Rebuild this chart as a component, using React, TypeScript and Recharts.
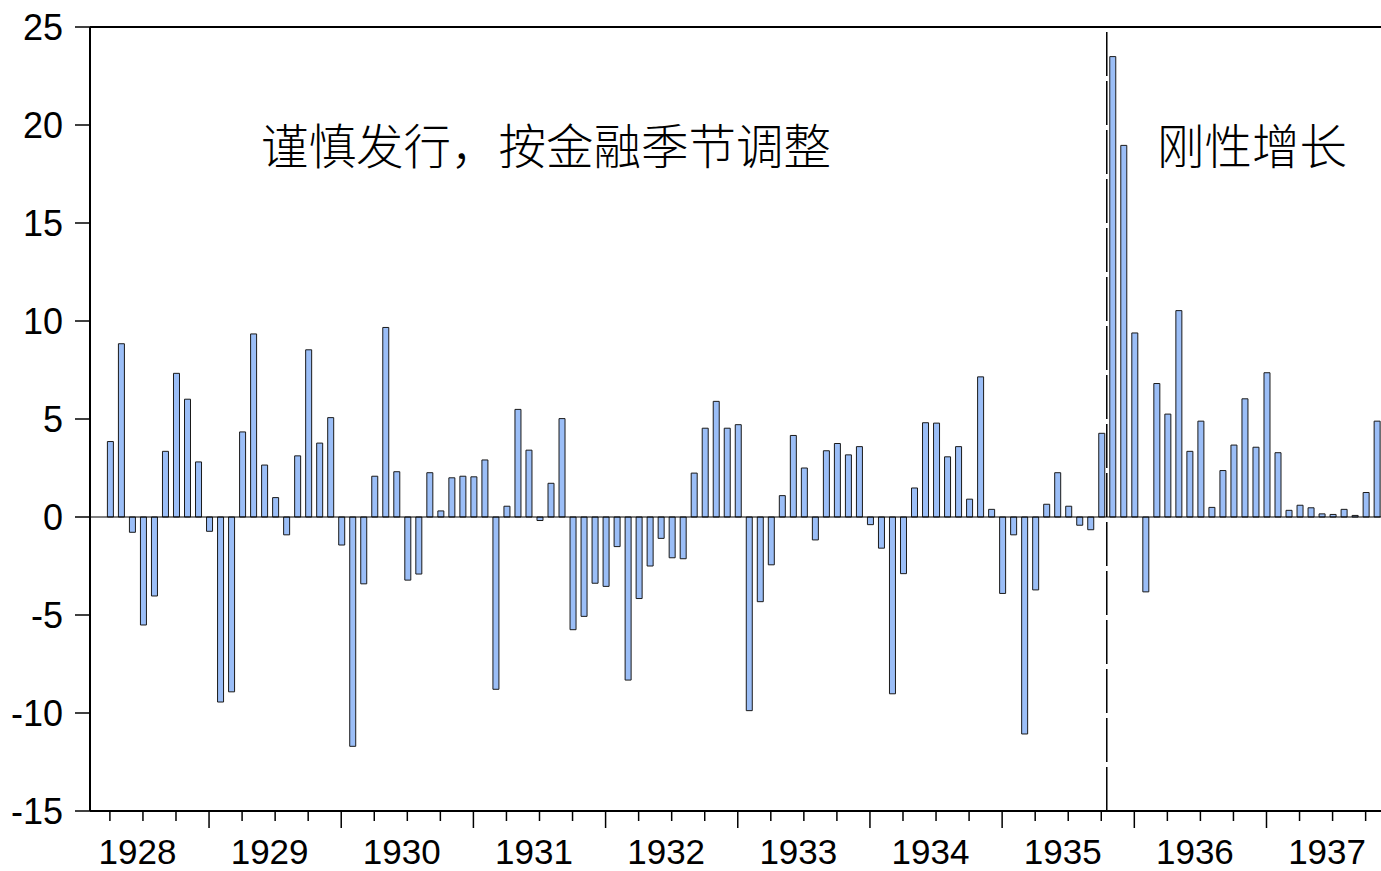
import React from 'react';
import { ComposedChart, Bar, XAxis, YAxis, ReferenceLine } from 'recharts';

// Monthly series, starting April 1928 (month index counted from Jan 1928 = 0)
const START_MONTH_INDEX = 3;
const VALUES_1928 = [3.85, 8.84, -0.78, -5.51, -4.03, 3.35, 7.33, 6.01, 2.81];
const VALUES_1929 = [-0.73, -9.44, -8.92, 4.34, 9.34, 2.65, 0.99, -0.91, 3.12, 8.53, 3.77, 5.07];
const VALUES_1930 = [-1.43, -11.7, -3.41, 2.08, 9.67, 2.31, -3.22, -2.91, 2.26, 0.31, 2.0, 2.08];
const VALUES_1931 = [2.05, 2.91, -8.79, 0.55, 5.49, 3.41, -0.18, 1.72, 5.02, -5.75, -5.07, -3.38];
const VALUES_1932 = [-3.54, -1.51, -8.32, -4.16, -2.5, -1.09, -2.08, -2.13, 2.24, 4.53, 5.9, 4.53];
const VALUES_1933 = [4.71, -9.88, -4.32, -2.44, 1.09, 4.16, 2.5, -1.17, 3.38, 3.75, 3.17, 3.59];
const VALUES_1934 = [-0.39, -1.59, -9.02, -2.89, 1.48, 4.81, 4.79, 3.07, 3.59, 0.91, 7.15, 0.39];
const VALUES_1935 = [-3.9, -0.91, -11.07, -3.72, 0.65, 2.26, 0.55, -0.42, -0.65, 4.27, 23.49, 18.96];
const VALUES_1936 = [9.39, -3.82, 6.81, 5.25, 10.53, 3.35, 4.89, 0.49, 2.37, 3.67, 6.03, 3.56];
const VALUES_1937 = [7.36, 3.28, 0.34, 0.6, 0.47, 0.16, 0.13, 0.39, 0.08, 1.25, 4.89];

const YEAR_LABELS = ['1928', '1929', '1930', '1931', '1932', '1933', '1934', '1935', '1936', '1937'];
const Y_TICKS = [-15, -10, -5, 0, 5, 10, 15, 20, 25];
const BREAK_AT = 93.5; // between Oct and Nov 1935
const LEFT_NOTE = '谨慎发行，按金融季节调整';
const RIGHT_NOTE = '刚性增长';

const VALUES = [
  ...VALUES_1928, ...VALUES_1929, ...VALUES_1930, ...VALUES_1931, ...VALUES_1932,
  ...VALUES_1933, ...VALUES_1934, ...VALUES_1935, ...VALUES_1936, ...VALUES_1937,
];
const data = VALUES.map((v, i) => ({ m: START_MONTH_INDEX + i, v }));

const quarterTicks: number[] = [];
for (let m = 3; m <= 117; m += 3) quarterTicks.push(m);
const labelTicks = YEAR_LABELS.map((_, k) => 12 * k + 5.5);
const xTicks = [...quarterTicks, ...labelTicks].sort((a, b) => a - b);

const FONT = '"Liberation Sans", Arial, Helvetica, sans-serif';
const CJK = '"Noto Sans CJK SC", "Noto Sans CJK TC", sans-serif';

const XTick = (props: any) => {
  const { x, y, payload } = props;
  const v = payload.value as number;
  if (Number.isInteger(v)) {
    const major = v % 12 === 0;
    return <line x1={x} x2={x} y1={y} y2={y + (major ? 17 : 10)} stroke="#000" strokeWidth={1.5} />;
  }
  const label = YEAR_LABELS[Math.floor(v / 12)];
  return (
    <text x={x} y={y + 53} textAnchor="middle" fontSize={35} fontFamily={FONT} fill="#000">
      {label}
    </text>
  );
};

export default function App() {
  return (
    <div style={{ position: 'absolute', left: 0, top: 0, width: 1381, height: 871, overflow: 'hidden', background: '#fff' }}>
      <ComposedChart
        width={1420}
        height={871}
        data={data}
        margin={{ top: 27, right: 20, bottom: 0, left: 0 }}
      >
        <XAxis
          dataKey="m"
          type="number"
          domain={[1.193, 120.12]}
          allowDataOverflow
          ticks={xTicks}
          interval={0}
          tickSize={0}
          tickMargin={0}
          tickLine={false}
          tick={<XTick />}
          axisLine={{ stroke: '#000', strokeWidth: 2 }}
          height={60}
        />
        <YAxis
          type="number"
          domain={[-15, 25]}
          ticks={Y_TICKS}
          interval={0}
          width={90}
          tickSize={15}
          tickMargin={12}
          axisLine={{ stroke: '#000', strokeWidth: 2 }}
          tickLine={{ stroke: '#000', strokeWidth: 1.5 }}
          tick={{ fontSize: 36, fill: '#000', fontFamily: FONT }}
        />
        <ReferenceLine y={25} stroke="#000" strokeWidth={2} />
        <ReferenceLine y={0} stroke="#000" strokeWidth={1} />
        <Bar dataKey="v" barSize={6} fill="#9BBEF7" stroke="#1a1a1a" strokeWidth={1} isAnimationActive={false} />
        <ReferenceLine x={BREAK_AT} stroke="#000" strokeWidth={1.5} strokeDasharray="44 5" />
      </ComposedChart>
      <svg width={1381} height={871} style={{ position: 'absolute', left: 0, top: 0, pointerEvents: 'none' }}>
        <text x={261} y={143} fontSize={47.5} fontFamily={CJK} fontWeight={300} dominantBaseline="central" fill="#000">
          {LEFT_NOTE}
        </text>
        <text x={1157} y={143} fontSize={47.5} fontFamily={CJK} fontWeight={300} dominantBaseline="central" fill="#000">
          {RIGHT_NOTE}
        </text>
      </svg>
    </div>
  );
}
